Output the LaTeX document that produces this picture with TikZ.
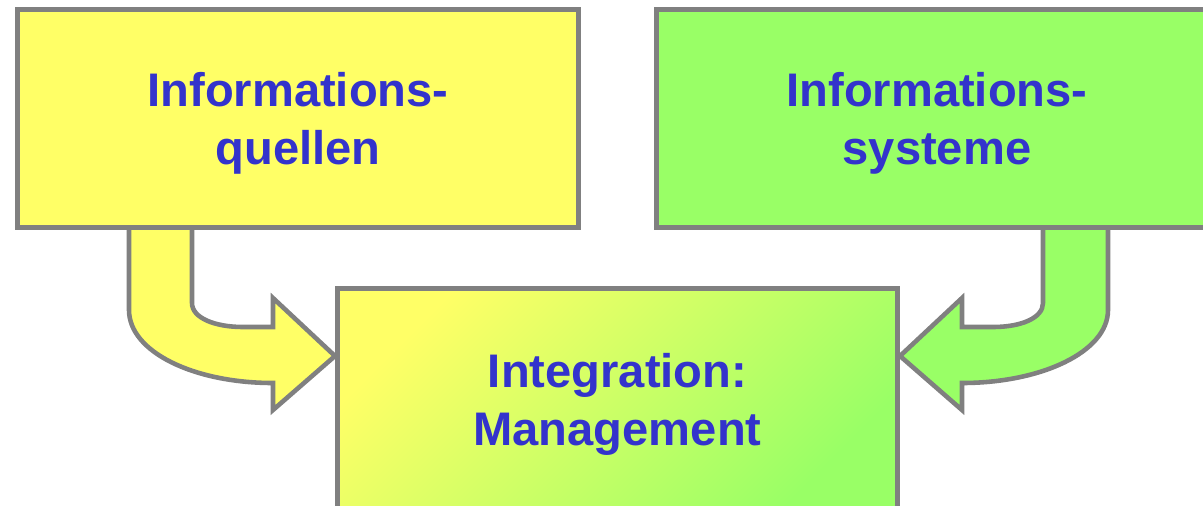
\documentclass[tikz,border=0pt]{standalone}
\usepackage{fontspec}
\setmainfont{Liberation Sans}
\usepackage{tikz}
\usetikzlibrary{calc}
\definecolor{frame}{HTML}{808080}
\definecolor{lemon}{HTML}{FFFF66}
\definecolor{lime}{HTML}{99FF66}
\definecolor{ink}{HTML}{3333CC}
\tikzset{
  infoBox/.style={draw=frame, line width=1.4pt, inner sep=0pt,
    minimum width=5.6cm, minimum height=2.17cm},
  infoText/.style={text=ink, align=center, yshift=-0.05cm,
    font=\bfseries\fontsize{13.4}{16.6}\selectfont},
  bentArrow/.style={draw=frame, line width=1.3pt}
}

\begin{document}
\begin{tikzpicture}[x=0.01cm, y=-0.01cm]
  \useasboundingbox (0,0) rectangle (1203,505);
  \clip (0,0) rectangle (1203,505);

  % arrows first, the boxes lie on top of them
  \draw[bentArrow, fill=lemon] (129,215) -- (129,310)
    .. controls (129,352) and (194,383) .. (273,383)
    -- (273,410) -- (335,356) -- (273,298) -- (273,327) -- (243,327)
    .. controls (215,327) and (192,318) .. (192,303) -- (192,215) -- cycle;
  \draw[bentArrow, fill=lime] (1108,215) -- (1108,310)
    .. controls (1108,352) and (1041,383) .. (962,383)
    -- (962,410) -- (900,356) -- (962,298) -- (962,327) -- (993,327)
    .. controls (1021,327) and (1043,318) .. (1043,303) -- (1043,215) -- cycle;

  \node[infoBox, fill=lemon] (quellen) at (298,118.5) {};
  \node[infoBox, fill=lime] (systeme) at (937,118.5) {};
  \node[infoBox, minimum height=2.21cm, top color=lemon, bottom color=lime,
    shading angle=45] (mgmt) at (617.5,399.5) {};

  \node[infoText] (quellenText) at (quellen) {Informations-\\quellen};
  \node[infoText] (systemeText) at (systeme) {Informations-\\systeme};
  \node[infoText] (mgmtText) at (mgmt) {Integration:\\Management};
\end{tikzpicture}
\end{document}
